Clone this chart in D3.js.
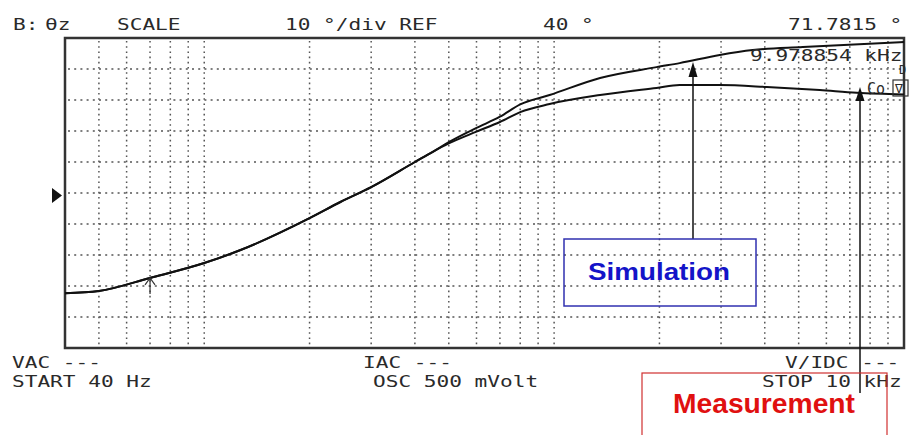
<html>
<head>
    <script src="https://d3js.org/d3.v7.min.js"></script>
    <style>
        body { margin: 0; background: #fff; }
        text.mono { font-family: "DejaVu Sans Mono", "Liberation Mono", monospace; fill: #2a2a2a; }
    </style>
</head>
<body>
    <div id="cont"></div>
    <script>
        // frequency sweep (Hz) and phase (deg)
        var freqCommon = [40, 50, 70, 100, 127, 200, 245, 300, 400, 450];
        var phaseCommon = [7.7, 8.4, 12.6, 17.4, 21.6, 31.9, 37.1, 41.9, 50.0, 53.3];

        var freqSim = [500, 600, 700, 800, 971, 1353, 1961, 2285, 2975, 3696, 5139, 10000];
        var phaseSim = [56.4, 61.0, 64.6, 68.6, 71.6, 77.1, 80.6, 81.9, 84.5, 86.1, 87.1, 88.7];

        var freqMeas = [500, 600, 700, 800, 971, 1353, 1961, 2285, 2975, 4055, 5744, 7329, 10000];
        var phaseMeas = [56.0, 59.8, 62.9, 66.1, 68.7, 71.6, 73.9, 74.8, 74.8, 74.2, 73.2, 72.3, 71.8];

        var gridFreqs = [50, 60, 70, 80, 90, 100, 200, 300, 400, 500, 600, 700, 800, 900,
                         1000, 2000, 3000, 4000, 5000, 6000, 7000, 8000, 9000];
        var gridPhases = [0, 10, 20, 30, 40, 50, 60, 70, 80];

        var topLabels = [["B:", 13], ["θz", 45], ["SCALE", 117],
                         ["10 °/div REF", 285], ["40 °", 543], ["71.7815 °", 788]];
        var bottomLabels = [["VAC ---", 12, 368], ["START 40 Hz", 12, 387],
                            ["IAC ---", 363, 368], ["OSC 500 mVolt", 373, 387],
                            ["V/IDC ---", 785, 368], ["STOP 10 kHz", 762, 387]];

        var svg = d3.select("#cont").append("svg")
            .attr("width", 911)
            .attr("height", 435);

        var pLeft = 65, pRight = 904, pTop = 38, pBottom = 348;
        var charW = 12.7;

        var x = d3.scaleLog().domain([40, 10000]).range([pLeft, pRight]);
        var y = d3.scaleLinear().domain([-10, 90]).range([pBottom, pTop]);

        // grid
        svg.selectAll(".hgrid").data(gridPhases).enter().append("line")
            .attr("class", "hgrid")
            .attr("x1", pLeft + 3).attr("x2", pRight - 3)
            .attr("y1", function (d) { return y(d); })
            .attr("y2", function (d) { return y(d); })
            .attr("stroke", "#555").attr("stroke-width", 1.5)
            .attr("stroke-dasharray", "2,4.2");

        svg.selectAll(".vgrid").data(gridFreqs).enter().append("line")
            .attr("class", "vgrid")
            .attr("y1", pTop + 3).attr("y2", pBottom - 3)
            .attr("x1", function (d) { return x(d); })
            .attr("x2", function (d) { return x(d); })
            .attr("stroke", "#555").attr("stroke-width", 1.5)
            .attr("stroke-dasharray", "1.6,3.6");

        // frame
        svg.append("rect")
            .attr("x", pLeft).attr("y", pTop)
            .attr("width", pRight - pLeft).attr("height", pBottom - pTop)
            .attr("fill", "none").attr("stroke", "#333").attr("stroke-width", 2.5);

        // traces
        var line = d3.line()
            .x(function (d) { return x(d[0]); })
            .y(function (d) { return y(d[1]); })
            .curve(d3.curveMonotoneX);

        var common = d3.zip(freqCommon, phaseCommon);
        var sim = common.concat(d3.zip(freqSim, phaseSim));
        var meas = common.concat(d3.zip(freqMeas, phaseMeas));

        [sim, meas].forEach(function (s) {
            svg.append("path").datum(s)
                .attr("d", line)
                .attr("fill", "none")
                .attr("stroke", "#111")
                .attr("stroke-width", 2);
        });

        // reference marker
        svg.append("path")
            .attr("d", d3.line()([[52, 188], [62, 195.5], [52, 203]]))
            .attr("fill", "#111");

        // cursor symbol
        var cx = x(70), cy = y(phaseCommon[2]);
        svg.append("path")
            .attr("d", "M" + cx + "," + cy + "V" + (cy + 16) + "M" + (cx - 5) + "," + (cy + 7) +
                       "L" + cx + "," + cy + "L" + (cx + 5) + "," + (cy + 7))
            .attr("fill", "none").attr("stroke", "#333").attr("stroke-width", 1.2);

        // screen texts
        function monoText(str, tx, ty) {
            svg.append("text")
                .attr("class", "mono")
                .attr("x", tx).attr("y", ty)
                .attr("font-size", 16)
                .attr("textLength", str.length * charW)
                .attr("lengthAdjust", "spacingAndGlyphs")
                .text(str);
        }
        topLabels.forEach(function (d) { monoText(d[0], d[1], 30); });
        bottomLabels.forEach(function (d) { monoText(d[0], d[1], d[2]); });
        monoText("9.978854 kHz", 750, 61);

        svg.append("text").attr("class", "mono")
            .attr("x", 899).attr("y", 74).attr("font-size", 12).text("D");
        svg.append("text").attr("class", "mono")
            .attr("x", 867).attr("y", 94).attr("font-size", 15).text("Co");
        svg.append("rect")
            .attr("x", 893).attr("y", 80).attr("width", 15).attr("height", 16)
            .attr("fill", "none").attr("stroke", "#333").attr("stroke-width", 1.2);
        svg.append("text").attr("class", "mono")
            .attr("x", 895).attr("y", 93).attr("font-size", 13).text("∇");

        // annotation boxes and arrows
        var ax1 = 693, ax2 = 860;
        svg.append("line").attr("x1", ax1).attr("x2", ax1)
            .attr("y1", 239).attr("y2", 72)
            .attr("stroke", "#111").attr("stroke-width", 1.5);
        svg.append("path")
            .attr("d", d3.line()([[ax1, 62], [ax1 - 4.5, 77], [ax1 + 4.5, 77]]))
            .attr("fill", "#111");

        svg.append("line").attr("x1", ax2).attr("x2", ax2)
            .attr("y1", 393).attr("y2", 96)
            .attr("stroke", "#111").attr("stroke-width", 1.5);
        svg.append("path")
            .attr("d", d3.line()([[ax2, 87], [ax2 - 4.5, 101], [ax2 + 4.5, 101]]))
            .attr("fill", "#111");

        svg.append("rect")
            .attr("x", 564).attr("y", 239).attr("width", 192).attr("height", 67)
            .attr("fill", "none").attr("stroke", "#3030b0").attr("stroke-width", 1.5);
        svg.append("text")
            .attr("x", 588).attr("y", 280)
            .attr("font-family", "Arial, 'Liberation Sans', sans-serif")
            .attr("font-weight", "bold").attr("font-size", 24)
            .attr("fill", "#1414c8")
            .attr("textLength", 142).attr("lengthAdjust", "spacingAndGlyphs")
            .text("Simulation");

        svg.append("rect")
            .attr("x", 642).attr("y", 373).attr("width", 245).attr("height", 80)
            .attr("fill", "none").attr("stroke", "#d03030").attr("stroke-width", 1.2);
        svg.append("text")
            .attr("x", 673).attr("y", 413)
            .attr("font-family", "Arial, 'Liberation Sans', sans-serif")
            .attr("font-weight", "bold").attr("font-size", 27)
            .attr("fill", "#e01010")
            .attr("textLength", 182).attr("lengthAdjust", "spacingAndGlyphs")
            .text("Measurement");
    </script>
</body>
</html>
